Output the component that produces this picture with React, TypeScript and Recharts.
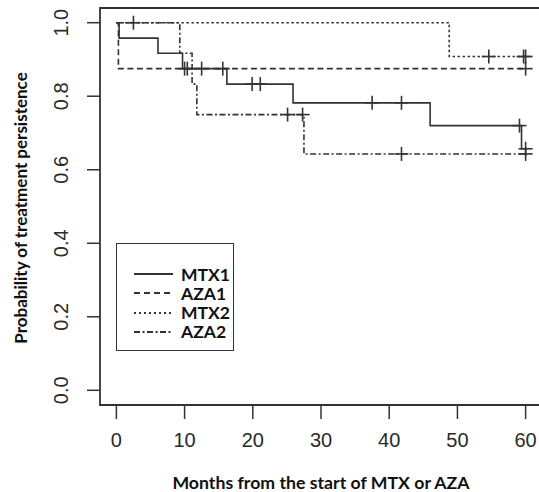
import { ComposedChart, Line, Scatter, XAxis, YAxis, ReferenceArea, Legend } from 'recharts';

// axes
const xTicks = [0, 10, 20, 30, 40, 50, 60];
const yTicks = [0, 0.2, 0.4, 0.6, 0.8, 1.0];
const yTickLabels = ['0.0', '0.2', '0.4', '0.6', '0.8', '1.0'];

// Kaplan-Meier steps: months / probability, plus censoring times
const mtx1Time = [0, 0.4, 6.1, 9.7, 16.2, 25.9, 46.0, 59.4, 60];
const mtx1Surv = [1, 0.958, 0.917, 0.875, 0.833, 0.782, 0.72, 0.657, 0.657];
const mtx1Cens = [10.0, 10.4, 12.5, 15.6, 19.9, 21.1, 37.5, 41.8, 59.1, 60];

const aza1Time = [0, 0.3, 60];
const aza1Surv = [1, 0.875, 0.875];
const aza1Cens = [60];

const mtx2Time = [0, 48.8, 60];
const mtx2Surv = [1, 0.908, 0.908];
const mtx2Cens = [2.5, 54.6, 59.7, 60];

const aza2Time = [0, 9.3, 11.1, 11.8, 27.5, 60];
const aza2Surv = [1, 0.917, 0.833, 0.75, 0.643, 0.643];
const aza2Cens = [25.1, 27.3, 41.8, 60];

const INK = '#333';

function steps(ts: number[], ss: number[]) {
  return ts.map((t, i) => ({ t, s: ss[i] }));
}

// censor mark sits on the curve at that time
function marks(cens: number[], ts: number[], ss: number[]) {
  return cens.map((c) => {
    let s = ss[0];
    ts.forEach((t, i) => {
      if (t <= c) s = ss[i];
    });
    return { t: c, s };
  });
}

const series = [
  { name: 'MTX1', data: steps(mtx1Time, mtx1Surv), cens: marks(mtx1Cens, mtx1Time, mtx1Surv), dash: undefined, legendDash: undefined },
  { name: 'AZA1', data: steps(aza1Time, aza1Surv), cens: marks(aza1Cens, aza1Time, aza1Surv), dash: '6 3.5', legendDash: '6 4' },
  { name: 'MTX2', data: steps(mtx2Time, mtx2Surv), cens: marks(mtx2Cens, mtx2Time, mtx2Surv), dash: '2.5 2.5', legendDash: '2 3' },
  { name: 'AZA2', data: steps(aza2Time, aza2Surv), cens: marks(aza2Cens, aza2Time, aza2Surv), dash: '6 2.5 2 2.5', legendDash: '6 2.5 2 2.5' },
];

function CensorMark(props: any) {
  const { cx, cy } = props;
  if (cx == null || cy == null) return null;
  return (
    <g stroke={INK} strokeWidth={1.6}>
      <line x1={cx - 7} y1={cy} x2={cx + 7} y2={cy} />
      <line x1={cx} y1={cy - 7} x2={cx} y2={cy + 7} />
    </g>
  );
}

function XTick(props: any) {
  const { x, payload } = props;
  return (
    <text x={x} y={446.5} textAnchor="middle" fontFamily="'Liberation Sans', Arial" fontSize={20} fill="#2a2a2a">
      {payload.value}
    </text>
  );
}

function YTick(props: any) {
  const { y, index } = props;
  return (
    <text transform={`translate(68, ${y}) rotate(-90)`} textAnchor="middle" fontFamily="'Liberation Sans', Arial" fontSize={20} fill="#2a2a2a">
      {yTickLabels[index]}
    </text>
  );
}

function KmLegend() {
  return (
    <div style={{ width: 116, height: 106, border: `1.6px solid ${INK}`, background: '#fff', position: 'relative' }}>
      {series.map((s, i) => (
        <div key={s.name} style={{ position: 'absolute', left: 0, top: 20 + i * 19.3, height: 20, display: 'flex', alignItems: 'center' }}>
          <svg width={62} height={20}>
            <line x1={17} y1={10} x2={56} y2={10} stroke={INK} strokeWidth={1.8} strokeDasharray={s.legendDash} />
          </svg>
          <span style={{ fontFamily: 'Lato, sans-serif', fontWeight: 700, fontSize: 17.5, color: '#111', marginLeft: 2 }}>{s.name}</span>
        </div>
      ))}
    </div>
  );
}

export default function App() {
  return (
    <div style={{ position: 'fixed', left: 0, top: 0, width: 539, height: 492, overflow: 'hidden', background: '#fff' }}>
      <ComposedChart width={545} height={492} margin={{ top: 8, right: 3, bottom: 27, left: 0 }}>
        <XAxis
          dataKey="t"
          type="number"
          domain={[-2.4, 62.4]}
          ticks={xTicks}
          axisLine={false}
          tickSize={14}
          tickLine={{ stroke: INK, strokeWidth: 1.5 }}
          tick={<XTick />}
          height={60}
          label={{
            content: () => (
              <text x={321} y={489} textAnchor="middle" fontFamily="Lato, sans-serif" fontWeight={700} fontSize={17.7} fill="#111">
                Months from the start of MTX or AZA
              </text>
            ),
          }}
        />
        <YAxis
          dataKey="s"
          type="number"
          domain={[-0.04, 1.04]}
          ticks={yTicks}
          axisLine={false}
          tickSize={13}
          tickLine={{ stroke: INK, strokeWidth: 1.5 }}
          tick={<YTick />}
          width={100}
          label={{
            content: () => (
              <text transform="translate(27, 208) rotate(-90)" textAnchor="middle" fontFamily="Lato, sans-serif" fontWeight={700} fontSize={17} fill="#111">
                Probability of treatment persistence
              </text>
            ),
          }}
        />
        <ReferenceArea x1={-2.4} x2={62.4} y1={-0.04} y2={1.04} fill="none" stroke={INK} strokeWidth={1.8} ifOverflow="visible" />
        {series.map((s) => (
          <Line
            key={s.name}
            data={s.data}
            dataKey="s"
            type="stepAfter"
            stroke={INK}
            strokeWidth={1.6}
            strokeDasharray={s.dash}
            dot={false}
            isAnimationActive={false}
            legendType="none"
          />
        ))}
        {series.map((s) => (
          <Scatter
            key={s.name + '-c'}
            data={s.cens}
            dataKey="s"
            shape={(p: any) => <CensorMark {...p} />}
            isAnimationActive={false}
            legendType="none"
          />
        ))}
        <Legend
          layout="vertical"
          align="center"
          verticalAlign="middle"
          content={() => <KmLegend />}
          wrapperStyle={{ left: 116, top: 243, width: 120, height: 110 }}
        />
      </ComposedChart>
    </div>
  );
}
